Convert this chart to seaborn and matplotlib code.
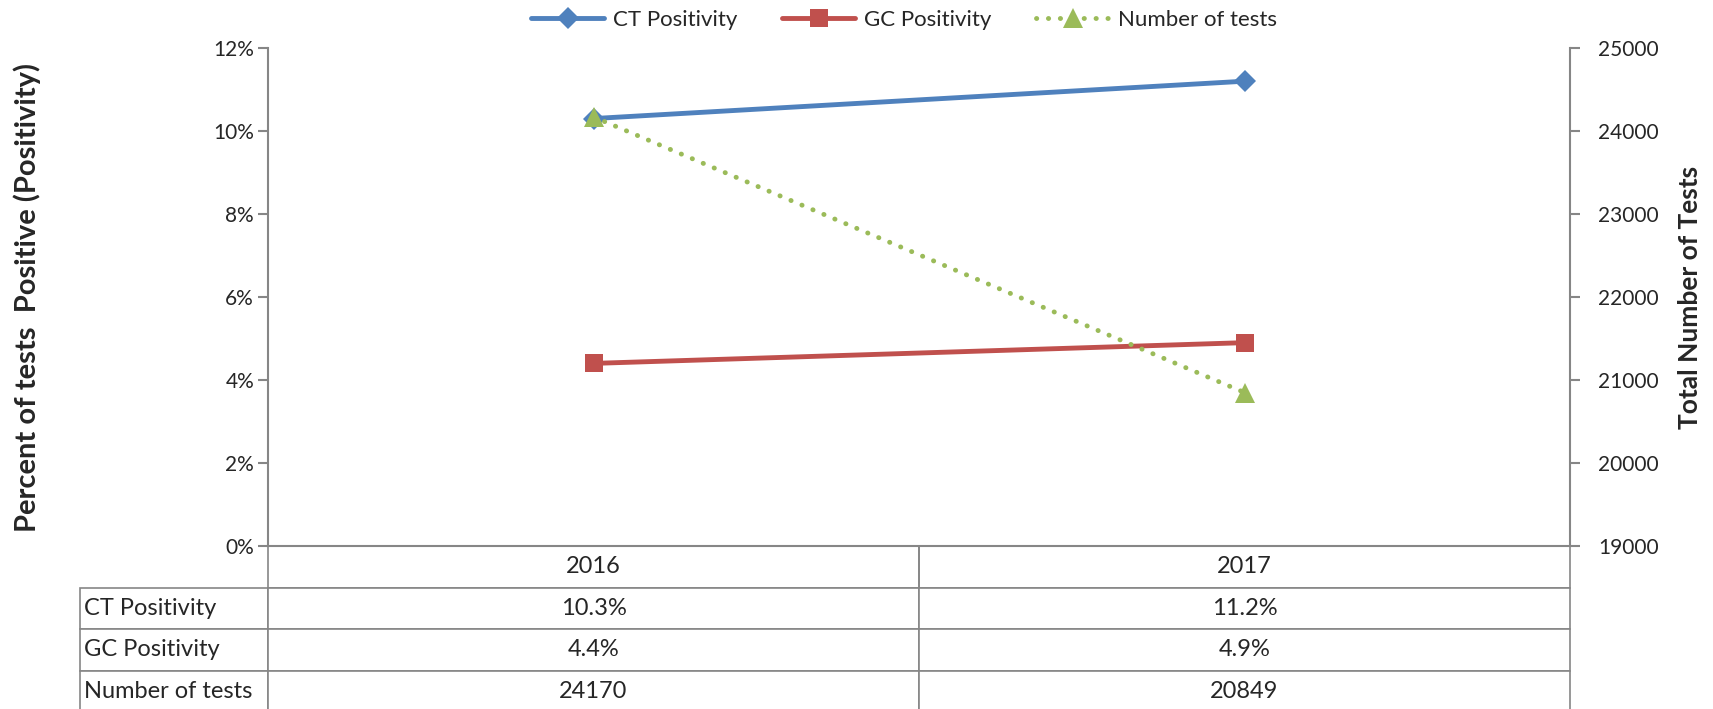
import matplotlib
matplotlib.use("Agg")
import matplotlib.pyplot as plt
import seaborn as sns
import pandas as pd
from matplotlib.ticker import FuncFormatter, MultipleLocator

years = ["2016", "2017"]
ct_pos = [10.3, 11.2]
gc_pos = [4.4, 4.9]
n_tests = [24170, 20849]
row_labels = ["CT Positivity", "GC Positivity", "Number of tests"]

sns.set_style("white")
plt.rcParams['font.family'] = ['Lato', 'DejaVu Sans']

BLUE = "#4F81BD"
RED = "#C0504D"
GREEN = "#9BBB59"
GRAY = "#868686"

fig = plt.figure(figsize=(17.13, 7.09), dpi=100)
ax = fig.add_axes([268/1713, 1-546/709, 1302/1713, 498/709])
ax2 = ax.twinx()

df = pd.DataFrame({"year": years, "ct": ct_pos, "gc": gc_pos, "n": n_tests})

sns.lineplot(data=df, x="year", y="ct", ax=ax, color=BLUE, lw=3.5, marker="D",
             markersize=11, markeredgewidth=0, label="CT Positivity", legend=False)
sns.lineplot(data=df, x="year", y="gc", ax=ax, color=RED, lw=3.5, marker="s",
             markersize=13, markeredgewidth=0, label="GC Positivity", legend=False)
sns.lineplot(data=df, x="year", y="n", ax=ax2, color=GREEN, lw=3.5, marker="^",
             markersize=14, markeredgewidth=0, linestyle=(0, (0.05, 2.4)),
             dash_capstyle="round", label="Number of tests", legend=False)

ax.set_xlim(-0.5, 1.5)
ax.set_ylim(0, 12)
ax2.set_ylim(19000, 25000)
ax.yaxis.set_major_locator(MultipleLocator(2))
ax.yaxis.set_major_formatter(FuncFormatter(lambda v, p: f"{v:.0f}%"))
ax2.yaxis.set_major_locator(MultipleLocator(1000))

for a in (ax, ax2):
    for s in a.spines.values():
        s.set_visible(False)
    a.set_xlabel("")
    a.set_xticks([])
ax.spines["left"].set_visible(True)
ax.spines["bottom"].set_visible(True)
ax2.spines["right"].set_visible(True)
for s in (ax.spines["left"], ax.spines["bottom"], ax2.spines["right"]):
    s.set_color(GRAY)
    s.set_linewidth(1.5)
ax.spines["left"].set_bounds(0, 12)

ax.tick_params(axis="y", left=True, direction="out", length=7, width=1.5,
               color=GRAY, labelsize=15, pad=3)
ax2.tick_params(axis="y", right=True, direction="out", length=7, width=1.5,
                color=GRAY, labelsize=15, pad=13)

ax.set_ylabel("Percent of tests  Positive (Positivity)", fontsize=21,
              fontweight="bold")
ax.yaxis.set_label_coords(-0.174, 0.5)
ax2.set_ylabel("Total Number of Tests", fontsize=19, fontweight="bold",
               labelpad=14)

# data table under the plot
cell_text = [["", years[0], years[1]]]
cell_text += [[row_labels[0], f"{ct_pos[0]}%", f"{ct_pos[1]}%"],
              [row_labels[1], f"{gc_pos[0]}%", f"{gc_pos[1]}%"],
              [row_labels[2], f"{n_tests[0]}", f"{n_tests[1]}"]]
lab_w = 188 / 1302
row_h = 41.5 / 498
tbl = ax.table(cellText=cell_text, cellLoc="center",
               colWidths=[lab_w, 0.5, 0.5],
               bbox=[-lab_w, -4 * row_h, 1 + lab_w, 4 * row_h])
tbl.auto_set_font_size(False)
tbl.set_fontsize(17)
for (r, c), cell in tbl.get_celld().items():
    cell.set_edgecolor(GRAY)
    cell.set_linewidth(1.2)
    if r == 0 and c == 0:
        cell.visible_edges = ""
    elif r == 0:
        cell.visible_edges = "LRB"
    if c == 0:
        cell.get_text().set_ha("left")
        cell._loc = "left"
        cell.PAD = 0.02
tbl.set_clip_on(False)

handles = ax.get_lines()[:2] + ax2.get_lines()[:1]
leg = fig.legend(handles, ["CT Positivity", "GC Positivity", "Number of tests"],
                 loc="center", bbox_to_anchor=(904/1713, 1-20/709), ncol=3,
                 frameon=False, fontsize=16, handlelength=3.3, handletextpad=0.4,
                 columnspacing=2.0)

fig.savefig("out.png", dpi=100)
